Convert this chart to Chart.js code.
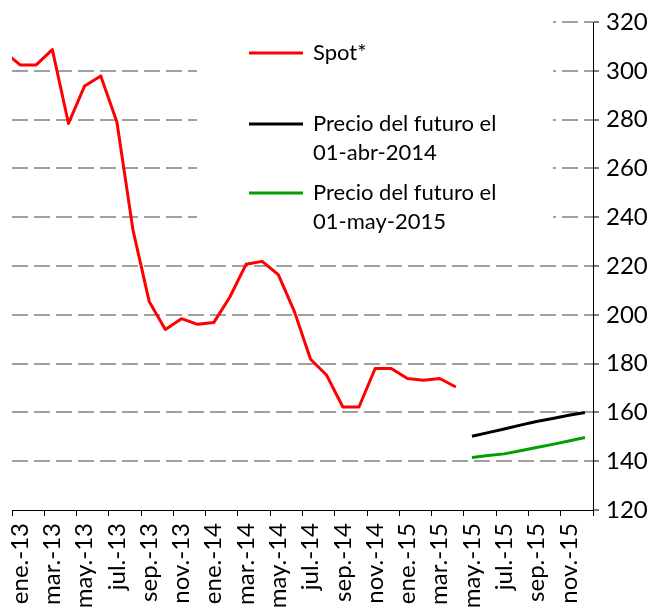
<!DOCTYPE html>
<html>
<head>
<meta charset="utf-8">
<script src="https://cdn.jsdelivr.net/npm/chart.js@4.4.1/dist/chart.umd.min.js"></script>
<style>
  body { margin: 0; background: #fff; }
  #wrap { width: 662px; height: 613px; position: relative; }
</style>
</head>
<body>
<div id="wrap"><canvas id="myChart"></canvas></div>
<script>
// meses (dic.-12 queda fuera del eje, solo se ve el tramo recortado)
const meses = [
  "dic.-12",
  "ene.-13", "feb.-13", "mar.-13", "abr.-13", "may.-13", "jun.-13",
  "jul.-13", "ago.-13", "sep.-13", "oct.-13", "nov.-13", "dic.-13",
  "ene.-14", "feb.-14", "mar.-14", "abr.-14", "may.-14", "jun.-14",
  "jul.-14", "ago.-14", "sep.-14", "oct.-14", "nov.-14", "dic.-14",
  "ene.-15", "feb.-15", "mar.-15", "abr.-15", "may.-15", "jun.-15",
  "jul.-15", "ago.-15", "sep.-15", "oct.-15", "nov.-15", "dic.-15"
];

// dic.-12 .. abr.-15
const spot = [
  308,
  302.4, 302.4, 308.7, 278.4, 293.8, 297.9, 279.0, 234.6, 205.5, 194.0, 198.4, 196.1,
  196.8, 207.3, 220.7, 221.9, 216.5, 201.3, 181.8, 175.2, 162.2, 162.2, 178.0, 178.0,
  173.9, 173.2, 173.9, 170.4
];
// may.-15 .. dic.-15
const futuroAbr14 = [150.2, 151.7, 153.2, 154.8, 156.3, 157.5, 158.8, 160.0];
const futuroMay15 = [141.5, 142.3, 143.0, 144.3, 145.6, 146.9, 148.3, 149.7];

const yTicks = [120, 140, 160, 180, 200, 220, 240, 260, 280, 300, 320];

const etiquetas = ["Spot*", "Precio del futuro el\n01-abr-2014", "Precio del futuro el\n01-may-2015"];
const colores = ["#ff0000", "#000000", "#00a000"];

const fuente = 'Lato, "Open Sans", sans-serif';

// rellena con null hasta la posicion del primer mes
function serie(desde, valores) {
  let out = [];
  for (let i = 0; i < meses.length; i++) out.push(null);
  for (let j = 0; j < valores.length; j++) out[desde + j] = valores[j];
  return out;
}

const leyenda = {
  id: "leyenda",
  beforeDatasetsDraw(chart) {
    const ctx = chart.ctx;
    ctx.save();
    // fondo blanco de la leyenda (tapa la rejilla) y franja del titulo vacio
    ctx.fillStyle = "#ffffff";
    ctx.fillRect(197, 14, 356, 222);
    ctx.fillRect(0, 14, 548, 16);
    ctx.font = "22px " + fuente;
    ctx.textBaseline = "middle";
    ctx.textAlign = "left";
    const filas = [53, 124, 193];
    chart.data.datasets.forEach(function (ds, i) {
      const y = filas[i];
      ctx.strokeStyle = ds.borderColor;
      ctx.lineWidth = 3;
      ctx.beginPath();
      ctx.moveTo(249, y);
      ctx.lineTo(303, y);
      ctx.stroke();
      ctx.fillStyle = "#000";
      ds.label.split("\n").forEach(function (linea, k) {
        ctx.fillText(linea, 313, y + k * 29);
      });
    });
    ctx.restore();
  }
};

const ctx = document.getElementById("myChart");

new Chart(ctx, {
  type: "line",
  data: {
    labels: meses,
    datasets: [
      { label: etiquetas[0], data: serie(0, spot), borderColor: colores[0], borderWidth: 3 },
      { label: etiquetas[1], data: serie(29, futuroAbr14), borderColor: colores[1], borderWidth: 3 },
      { label: etiquetas[2], data: serie(29, futuroMay15), borderColor: colores[2], borderWidth: 3 }
    ]
  },
  options: {
    responsive: true,
    maintainAspectRatio: false,
    animation: false,
    layout: { padding: { top: 22, left: 12, right: 0, bottom: 0 } },
    elements: {
      point: { radius: 0 },
      line: { tension: 0, borderJoinStyle: "round" }
    },
    plugins: {
      legend: { display: false },
      tooltip: { enabled: false }
    },
    scales: {
      x: {
        type: "category",
        min: "ene.-13",
        offset: true,
        afterFit: function (scale) { scale.height = 103; },
        border: { color: "#000", width: 1 },
        grid: {
          offset: true,
          drawOnChartArea: false,
          tickLength: 6,
          tickWidth: 1,
          tickColor: function (c) {
            return (c.index === undefined || c.index % 2 === 0) ? "#000" : "rgba(0,0,0,0)";
          }
        },
        ticks: {
          autoSkip: false,
          maxRotation: 90,
          minRotation: 90,
          padding: 7,
          color: "#000",
          font: { family: fuente, size: 24 },
          callback: function (value, index) {
            return index % 2 === 0 ? this.getLabelForValue(value) : "";
          }
        }
      },
      y: {
        position: "right",
        min: 120,
        max: 320,
        afterFit: function (scale) { scale.width = 69; },
        afterBuildTicks: function (scale) {
          scale.ticks = yTicks.map(function (v) { return { value: v }; });
        },
        // en v4 border.dash es el guion de la rejilla
        border: { color: "#000", width: 1, dash: [16, 6] },
        grid: {
          color: function (c) {
            return c.tick && c.tick.value === 120 ? "rgba(0,0,0,0)" : "#a0a0a0";
          },
          lineWidth: 2,
          tickColor: "#000",
          tickWidth: 1,
          tickLength: 6,
          tickBorderDash: []
        },
        ticks: {
          padding: 7,
          color: "#000",
          font: { family: fuente, size: 24 }
        }
      }
    }
  },
  plugins: [leyenda]
});
</script>
</body>
</html>
